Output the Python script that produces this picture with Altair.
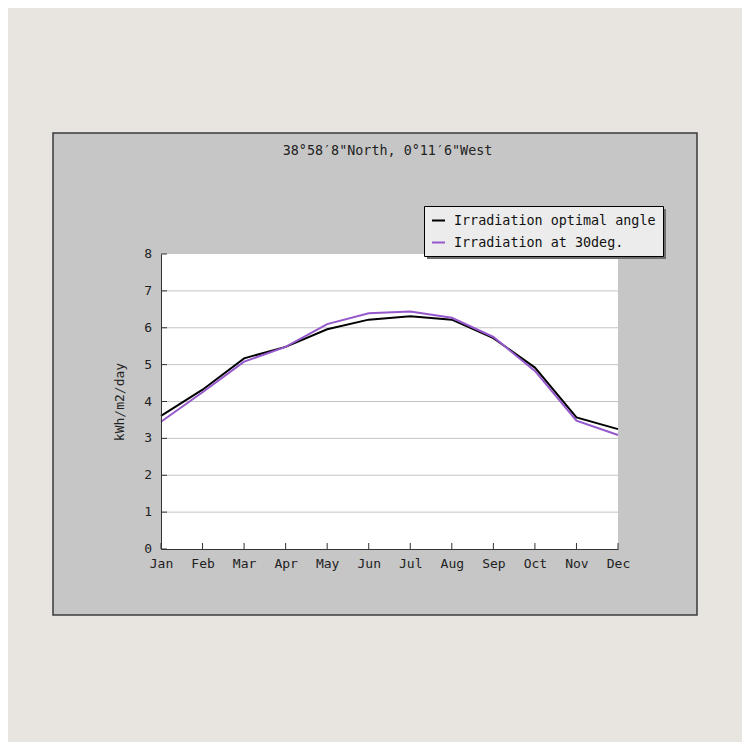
import altair as alt
import pandas as pd

months = ["Jan", "Feb", "Mar", "Apr", "May", "Jun", "Jul", "Aug", "Sep", "Oct", "Nov", "Dec"]
optimal = [3.61, 4.32, 5.17, 5.48, 5.96, 6.22, 6.31, 6.22, 5.72, 4.92, 3.57, 3.25]
deg30 = [3.45, 4.25, 5.08, 5.48, 6.10, 6.39, 6.44, 6.27, 5.75, 4.83, 3.48, 3.09]
series_names = ["Irradiation optimal angle", "Irradiation at 30deg."]
series_colors = ["#000000", "#9558cc"]
grid_values = [1, 2, 3, 4, 5, 6, 7]
ytick_values = [0, 1, 2, 3, 4, 5, 6, 7, 8]
title_text = "38°58′8\"North, 0°11′6\"West"

W, H = 457, 295
FONT = "DejaVu Sans Mono"

rows = []
for m, a, b in zip(months, optimal, deg30):
    rows.append({"month": m, "series": series_names[0], "value": a})
    rows.append({"month": m, "series": series_names[1], "value": b})
df = pd.DataFrame(rows)
one = pd.DataFrame({"k": [0]})
grid_df = pd.DataFrame({"g": grid_values})
ytick_df = pd.DataFrame({"t": ytick_values})
xtick_df = pd.DataFrame({"month": months})

xscale = alt.Scale(type="point", padding=0, domain=months)
yscale = alt.Scale(domain=[0, 8])

xaxis = alt.Axis(title=None, labelAngle=0, ticks=False, labelPadding=8,
                 domainColor="#333333", labelFont=FONT, labelFontSize=13,
                 labelColor="#222222", grid=False, zindex=1,
                 labelFlush=False, labelOverlap=False)
yaxis = alt.Axis(title="kWh/m2/day", values=ytick_values, ticks=False, labels=False,
                 grid=False, domainColor="#333333", titleFont=FONT,
                 titleFontSize=13, titleFontWeight="normal", titleColor="#222222",
                 titlePadding=35, zindex=1)

panel = alt.Chart(one).mark_rect(fill="#c6c6c6", stroke="#3a3a3a", strokeWidth=1.5).encode(
    x=alt.value(-108), x2=alt.value(536), y=alt.value(-121), y2=alt.value(361)
)
plotbg = alt.Chart(one).mark_rect(fill="#ffffff").encode(
    x=alt.value(0), x2=alt.value(W), y=alt.value(0), y2=alt.value(H)
)
shadow = alt.Chart(one).mark_rect(fill="#6e6e6e").encode(
    x=alt.value(266), x2=alt.value(505), y=alt.value(-45), y2=alt.value(5)
)
title = alt.Chart(one).mark_text(font=FONT, fontSize=13.4, color="#222222", align="center", baseline="middle").encode(
    x=alt.value(W / 2 - 2), y=alt.value(-103), text=alt.value(title_text)
)

lines = alt.Chart(df).mark_line(strokeWidth=2).encode(
    x=alt.X("month:O", scale=xscale, sort=months, axis=xaxis),
    y=alt.Y("value:Q", scale=yscale, axis=yaxis),
    color=alt.Color("series:N", scale=alt.Scale(domain=series_names, range=series_colors),
                    legend=alt.Legend(title=None, orient="none", legendX=263, legendY=-48,
                                      fillColor="#ececec", strokeColor="#000000",
                                      padding=7, symbolType="stroke", symbolSize=169,
                                      symbolStrokeWidth=2, labelFont=FONT, labelFontSize=13.4,
                                      labelColor="#111111", labelOffset=8, rowPadding=8,
                                      labelLimit=400, cornerRadius=0)),
    detail="series:N",
)

grid = alt.Chart(grid_df).mark_rule(color="#c4c4c4", strokeWidth=1).encode(
    y=alt.Y("g:Q", scale=yscale, axis=yaxis), x=alt.value(0), x2=alt.value(W)
)
yticks = alt.Chart(ytick_df).mark_rule(color="#333333", strokeWidth=1).encode(
    y=alt.Y("t:Q", scale=yscale, axis=yaxis), x=alt.value(0), x2=alt.value(6)
)
ylabels = alt.Chart(ytick_df).mark_text(font=FONT, fontSize=13, color="#222222",
                                         align="right", baseline="middle").encode(
    y=alt.Y("t:Q", scale=yscale, axis=yaxis), x=alt.value(-9), text="t:Q"
)
xticks = alt.Chart(xtick_df).mark_rule(color="#333333", strokeWidth=1).encode(
    x=alt.X("month:O", scale=xscale, sort=months, axis=xaxis), y=alt.value(H), y2=alt.value(H - 6)
)

chart = alt.layer(panel, plotbg, shadow, title, grid, yticks, ylabels, xticks, lines).properties(
    width=W, height=H,
    padding={"left": 153, "top": 246, "right": 124, "bottom": 193},
    autosize=alt.AutoSizeParams(type="none"),
    background="#e8e5e1",
).configure_view(stroke=None)

chart.save("out.html", embed_options={"renderer": "svg", "actions": False})
